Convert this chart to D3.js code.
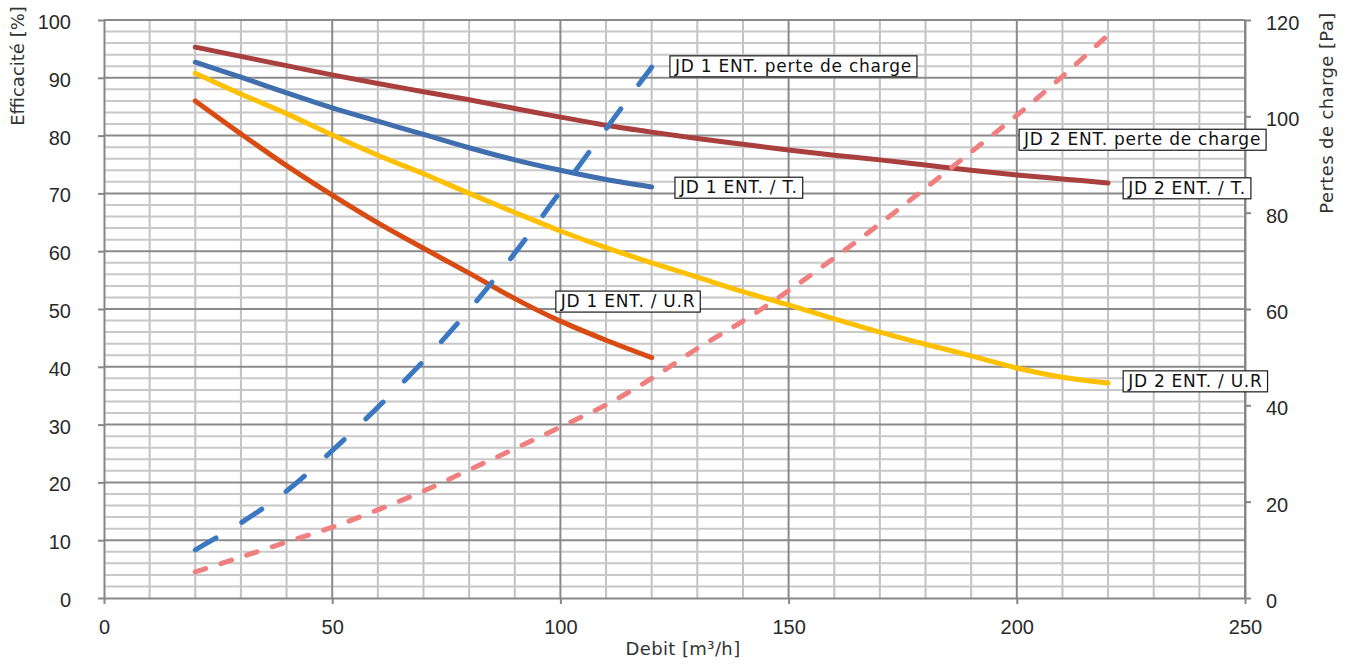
<!DOCTYPE html>
<html><head><meta charset="utf-8">
<script src="https://cdn.jsdelivr.net/npm/d3@7"></script>
<style>
html,body{margin:0;padding:0;background:#fff;}
svg{display:block;}
</style></head><body>
<svg id="chart" width="1346" height="664"></svg>
<script>
// ---- data ----
const debitJD1 = [20,30,40,50,60,70,80,90,100,110,120];
const debitJD2 = [20,30,40,50,60,70,80,90,100,110,120,130,140,150,160,170,180,190,200,210,220];

const jd1T  = [92.7,90.1,87.4,84.8,82.5,80.2,77.9,75.8,74.0,72.4,71.1];
const jd1UR = [86.0,80.3,74.8,69.7,64.9,60.5,56.2,51.8,47.9,44.6,41.6];
const jd1PC = [10.0,15.6,22.2,30.6,39.6,49.2,59.8,71.6,84.4,97.4,110.2];

const jd2T  = [95.3,93.7,92.1,90.5,89.0,87.6,86.2,84.7,83.2,81.8,80.6,79.5,78.5,77.5,76.6,75.8,74.9,74.0,73.2,72.5,71.8];
const jd2UR = [90.8,87.2,83.8,80.1,76.6,73.4,70.0,66.7,63.5,60.6,58.0,55.5,53.0,50.7,48.3,46.0,43.9,41.9,39.8,38.2,37.2];
const jd2PC = [5.4,8.5,11.6,14.7,18.3,22.2,26.6,31.0,35.5,40.1,45.6,51.8,57.5,63.8,70.6,77.7,85.1,92.6,100.2,108.3,116.9];

const xTickValues = [0,50,100,150,200,250];
const yLeftTickValues = [0,10,20,30,40,50,60,70,80,90,100];
const yRightTickValues = [0,20,40,60,80,100,120];

const seriesNames = ["JD 2 ENT. / T.","JD 1 ENT. / T.","JD 2 ENT. / U.R","JD 1 ENT. / U.R","JD 1 ENT. perte de charge","JD 2 ENT. perte de charge"];

// ---- layout / style ----
const svg = d3.select("#chart");
const x  = d3.scaleLinear().domain([0,250]).range([104,1245]);
const yL = d3.scaleLinear().domain([0,100]).range([598,20]);
const yR = d3.scaleLinear().domain([0,120]).range([598,20]);

const series = [
  {name:seriesNames[0], xs:debitJD2, ys:jd2T,  axis:yL, color:"#A9403E", dash:null},
  {name:seriesNames[1], xs:debitJD1, ys:jd1T,  axis:yL, color:"#416FAE", dash:null},
  {name:seriesNames[2], xs:debitJD2, ys:jd2UR, axis:yL, color:"#FFC000", dash:null},
  {name:seriesNames[3], xs:debitJD1, ys:jd1UR, axis:yL, color:"#D84C14", dash:null},
  {name:seriesNames[4], xs:debitJD1, ys:jd1PC, axis:yR, color:"#3B78C3", dash:"24,30"},
  {name:seriesNames[5], xs:debitJD2, ys:jd2PC, axis:yR, color:"#F08080", dash:"11,16"}
];

// label anchors (top-left of box) in data units: debit, efficacité
const labelPos = [
  {name:seriesNames[4], dx:124.0, dy:93.8},
  {name:seriesNames[5], dx:200.5, dy:81.1},
  {name:seriesNames[1], dx:125.1, dy:72.8},
  {name:seriesNames[0], dx:223.3, dy:72.7},
  {name:seriesNames[3], dx:99.0,  dy:53.1},
  {name:seriesNames[2], dx:223.3, dy:39.3}
];

// ---- grid ----
const grid = svg.append("g");
const minorX = d3.range(10,250,10).filter(v => v % 50 !== 0);
const minorY = d3.range(2,100,2).filter(v => v % 10 !== 0);
const majorX = [50,100,150,200,250];
const majorY = [10,20,30,40,50,60,70,80,90,100];

grid.selectAll(".mx").data(minorX).enter().append("line")
  .attr("x1",d=>x(d)).attr("x2",d=>x(d)).attr("y1",yL(100)).attr("y2",yL(0))
  .attr("stroke","#C2C2C2").attr("stroke-width",2);
grid.selectAll(".my").data(minorY).enter().append("line")
  .attr("x1",x(0)).attr("x2",x(250)).attr("y1",d=>yL(d)).attr("y2",d=>yL(d))
  .attr("stroke","#C8C8C8").attr("stroke-width",2);
grid.selectAll(".Mx").data(majorX).enter().append("line")
  .attr("x1",d=>x(d)).attr("x2",d=>x(d)).attr("y1",yL(100)).attr("y2",yL(0))
  .attr("stroke","#8A8A8A").attr("stroke-width",2);
grid.selectAll(".My").data(majorY).enter().append("line")
  .attr("x1",x(0)).attr("x2",x(250)).attr("y1",d=>yL(d)).attr("y2",d=>yL(d))
  .attr("stroke","#8A8A8A").attr("stroke-width",2);

// ---- axes ----
function styleAxis(g){
  g.selectAll("path.domain").attr("stroke","#878787").attr("stroke-width",2);
  g.selectAll(".tick line").attr("stroke","#878787").attr("stroke-width",2);
  g.selectAll(".tick text").attr("fill","#2a2a2a")
    .style("font-family","'Liberation Sans', Arial, sans-serif").style("font-size","20px");
}
const gL = svg.append("g").attr("transform",`translate(${x(0)},0)`)
  .call(d3.axisLeft(yL).tickValues(yLeftTickValues).tickSize(6).tickSizeOuter(0).tickPadding(27));
styleAxis(gL); gL.selectAll(".tick text").attr("y",2);

const gB = svg.append("g").attr("transform",`translate(0,${yL(0)})`)
  .call(d3.axisBottom(x).tickValues(xTickValues).tickSize(6).tickSizeOuter(0).tickPadding(16));
styleAxis(gB);

const gR = svg.append("g").attr("transform",`translate(${x(250)},0)`)
  .call(d3.axisRight(yR).tickValues(yRightTickValues).tickSize(6).tickSizeOuter(0).tickPadding(15));
styleAxis(gR); gR.selectAll(".tick text").attr("y",3);

// ---- lines ----
const linesG = svg.append("g");
series.forEach(s => {
  const pts = s.xs.map((d,i)=>[d, s.ys[i]]);
  const line = d3.line().x(d=>x(d[0])).y(d=>s.axis(d[1])).curve(d3.curveCatmullRom.alpha(0.5));
  linesG.append("path").datum(pts).attr("d",line)
    .attr("fill","none").attr("stroke",s.color).attr("stroke-width",5)
    .attr("stroke-linecap","round").attr("stroke-linejoin","round")
    .attr("stroke-dasharray",s.dash);
});

// ---- labels ----
const labG = svg.append("g");
labelPos.forEach(l => {
  const g = labG.append("g").attr("transform",`translate(${x(l.dx)},${yL(l.dy)})`);
  const rect = g.append("rect").attr("fill","#fff").attr("stroke","#1a1a1a").attr("stroke-width",1.2);
  const t = g.append("text").text(l.name).attr("x",5).attr("y",16)
    .attr("fill","#111")
    .style("font-family","'DejaVu Sans', sans-serif").style("font-size","17px").style("letter-spacing","0.75px");
  const w = t.node().getComputedTextLength();
  rect.attr("x",0).attr("y",0).attr("width",w+10).attr("height",21);
});

// ---- axis titles ----
const titleStyle = (s, ls) => s.style("font-family","'DejaVu Sans', sans-serif").style("font-size","18px")
  .style("letter-spacing",ls).attr("fill","#333").attr("text-anchor","middle");
svg.append("text").text("Efficacité [%]").attr("transform","translate(24,66) rotate(-90)").call(titleStyle,"0px");
svg.append("text").text("Pertes de charge [Pa]").attr("transform","translate(1333,113) rotate(-90)").call(titleStyle,"0.4px");
svg.append("text").text("Debit [m³/h]").attr("x",683).attr("y",655).call(titleStyle,"0.4px");
</script>
</body></html>
